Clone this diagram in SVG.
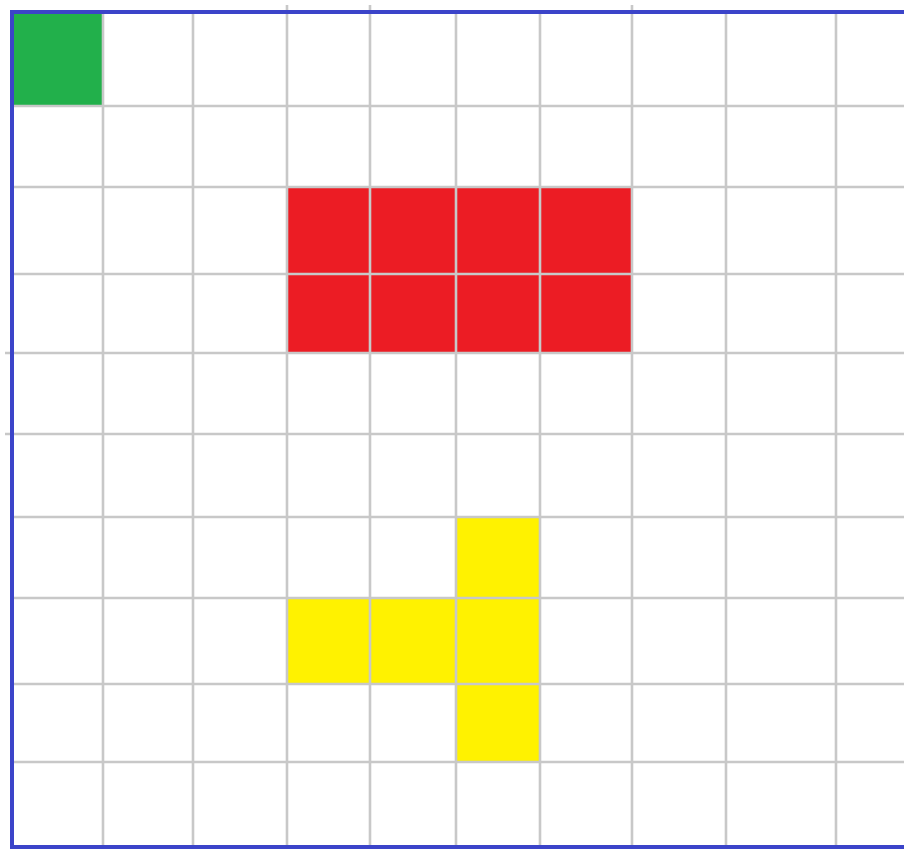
<svg xmlns="http://www.w3.org/2000/svg" width="904" height="850" viewBox="0 0 904 850">
<style>
.g{stroke:#c8c8c8;stroke-width:2.6;fill:none}
.b{stroke:#3b44c9;stroke-width:4;fill:none}
.green{fill:#22b04b}
.red{fill:#ec1c24}
.yellow{fill:#fff200}
</style>
<rect x="0" y="0" width="904" height="850" fill="#ffffff"/>
<g id="cells">
<rect class="green" x="12" y="12" width="91" height="94"/>
<rect class="red" x="287" y="187" width="345" height="166"/>
<rect class="yellow" x="456" y="517" width="84" height="246"/>
<rect class="yellow" x="287" y="598" width="170" height="86"/>
</g>
<g id="grid">
<path class="g" d="M103 12V847M193 12V847M287 5V847M370 5V847M456 12V847M540 12V847M632 5V847M726 12V847M836 12V847"/>
<path class="g" d="M12 106H904M12 187H904M12 274H904M5 353H904M5 434H904M12 517H904M12 598H904M12 684H904M12 762H904"/>
</g>
<g id="border">
<path class="b" d="M904 12H12V847H904"/>
</g>
</svg>
